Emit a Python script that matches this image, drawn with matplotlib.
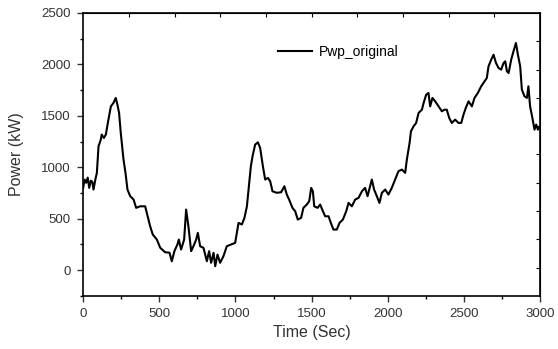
import numpy as np
import matplotlib
matplotlib.use('Agg')
import matplotlib.pyplot as plt
from matplotlib.ticker import MultipleLocator

plt.rcParams['font.family'] = ['Liberation Sans', 'DejaVu Sans']

# values
time_sec = [0, 10, 20, 30, 40, 50, 60, 68, 80, 90, 101, 116, 122, 136, 149, 166, 182,
            199, 214, 225, 236, 247, 265, 278, 291, 309, 331, 348, 374, 407, 418, 440,
            457, 484, 506, 538, 567, 582, 599, 619, 628, 643, 663, 676, 691, 709, 724,
            742, 753, 768, 790, 812, 827, 840, 856, 867, 882, 899, 921, 943, 972, 998,
            1020, 1042, 1059, 1075, 1090, 1101, 1112, 1129, 1147, 1162, 1180, 1195,
            1213, 1228, 1243, 1271, 1300, 1321, 1337, 1352, 1374, 1392, 1409, 1431,
            1446, 1468, 1484, 1497, 1508, 1517, 1539, 1556, 1574, 1589, 1611, 1626,
            1643, 1665, 1683, 1705, 1727, 1742, 1764, 1786, 1808, 1830, 1851, 1867,
            1884, 1895, 1910, 1928, 1945, 1961, 1983, 2004, 2026, 2048, 2070, 2092,
            2114, 2125, 2143, 2152, 2169, 2186, 2202, 2224, 2235, 2252, 2267, 2278,
            2293, 2311, 2333, 2355, 2372, 2387, 2403, 2420, 2442, 2464, 2482, 2497,
            2512, 2530, 2552, 2569, 2591, 2613, 2635, 2650, 2661, 2679, 2694, 2710,
            2727, 2744, 2760, 2771, 2782, 2793, 2810, 2825, 2841, 2854, 2869, 2880,
            2897, 2913, 2923, 2934, 2949, 2963, 2974, 2985, 3000]
power_kw = [800, 880, 850, 900, 800, 870, 860, 784, 880, 945, 1204, 1269, 1318, 1285,
            1318, 1463, 1592, 1625, 1674, 1609, 1528, 1334, 1075, 946, 784, 719, 687,
            606, 621, 621, 557, 427, 347, 298, 218, 175, 170, 87, 185, 250, 298, 201,
            298, 589, 427, 185, 233, 298, 363, 233, 218, 87, 185, 72, 169, 39, 152, 72,
            136, 233, 250, 266, 460, 444, 509, 621, 849, 1010, 1107, 1220, 1243, 1188,
            1010, 881, 897, 864, 767, 752, 758, 816, 735, 687, 606, 573, 492, 509, 606,
            638, 670, 800, 767, 621, 606, 638, 573, 524, 524, 460, 395, 395, 460, 492,
            573, 654, 621, 687, 703, 767, 800, 719, 816, 881, 784, 719, 654, 752, 784,
            735, 800, 881, 962, 978, 946, 1075, 1237, 1350, 1398, 1431, 1528, 1560,
            1625, 1706, 1722, 1592, 1674, 1641, 1592, 1544, 1560, 1560, 1480, 1431,
            1463, 1431, 1431, 1512, 1577, 1641, 1592, 1674, 1722, 1787, 1835, 1868,
            1981, 2046, 2094, 2014, 1965, 1949, 2014, 2030, 1932, 1916, 2046, 2127,
            2208, 2094, 1981, 1755, 1690, 1674, 1787, 1592, 1480, 1366, 1415, 1366, 1398]

# odd tick spacing on the top / right frame of the scanned original
top_ticks = [300, 600, 900, 1200, 1500, 1800, 2100, 2400, 2700]
right_ticks = [25, 300, 575, 850, 1125, 1400, 1675, 1950, 2225]

fig = plt.figure(figsize=(5.58, 3.49), dpi=100)
ax = fig.add_axes([0.149, 0.152, 0.819, 0.811])

ax.plot(time_sec, power_kw, color='black', lw=1.5, label='Pwp_original')

ax.set_xlim(0, 3000)
ax.set_ylim(-250, 2500)
ax.xaxis.set_major_locator(MultipleLocator(500))
ax.xaxis.set_minor_locator(MultipleLocator(250))
ax.yaxis.set_major_locator(MultipleLocator(500))
ax.yaxis.set_minor_locator(MultipleLocator(250))
ax.tick_params(which='major', direction='out', length=4, width=1, labelsize=9.5,
               colors='#333333', pad=5)
ax.tick_params(which='minor', direction='out', length=2, width=1)

top = ax.secondary_xaxis('top')
top.set_xticks(top_ticks)
top.tick_params(direction='in', length=3, labeltop=False)
right = ax.secondary_yaxis('right')
right.set_yticks(right_ticks)
right.tick_params(direction='in', length=3, labelright=False)

for sp in ax.spines.values():
    sp.set_linewidth(1.2)

ax.set_xlabel('Time (Sec)', fontsize=11.5, color='#333333', labelpad=3)
ax.set_ylabel('Power (kW)', fontsize=11.5, color='#333333', labelpad=12)

ax.legend(loc='upper left', bbox_to_anchor=(0.40, 0.93), frameon=False,
          fontsize=10, handlelength=2.4, handletextpad=0.5)

fig.savefig('out.png', dpi=100)
